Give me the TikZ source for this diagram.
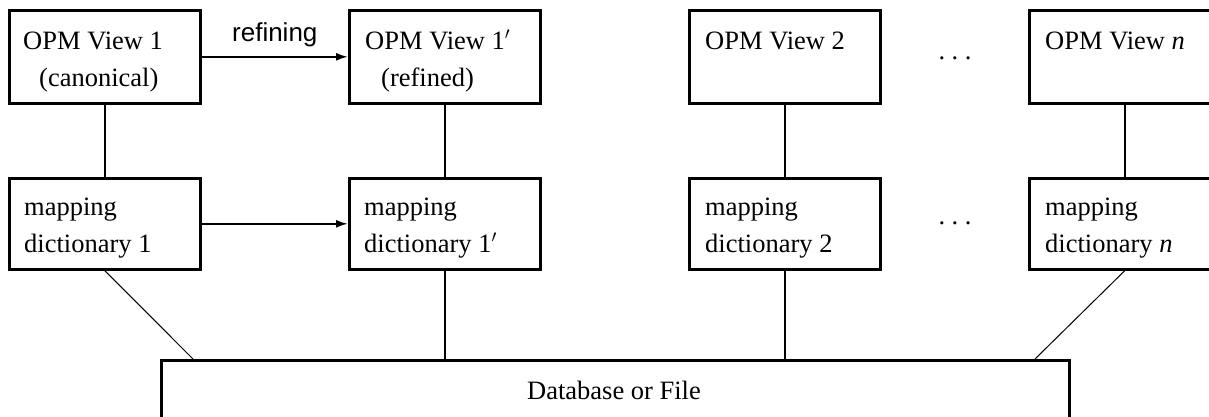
\documentclass[tikz,border=0pt]{standalone}
\usepackage{fontspec}
\setmainfont{Liberation Serif}
\newfontfamily\sansf{Liberation Sans}
\usetikzlibrary{arrows.meta}
\newcommand{\spdots}{.\hskip 6.5pt.\hskip 6.5pt.}
\begin{document}
\begin{tikzpicture}[x=1pt,y=-1pt,
  box/.style={draw, line width=2.6pt, inner sep=0pt, anchor=north west,
              minimum width=191pt},
  vbox/.style={box, minimum height=93pt},
  mbox/.style={box, minimum height=91pt},
  txt/.style={anchor=base west, inner sep=0pt, font=\fontsize{26.5}{30}\selectfont},
  ctxt/.style={txt, anchor=base},
  conn/.style={line width=2pt},
  thinline/.style={line width=1pt},
  arr/.style={line width=2pt, -{Latex[length=12pt,width=8pt]}}]
\useasboundingbox (0,0) rectangle (1209,416);
\clip (0,0) rectangle (1209,416);
% top row
\node[vbox] (v1)  at (8,9) {};
\node[vbox] (v1p) at (348,9) {};
\node[vbox] (v2)  at (688,9) {};
\node[vbox] (vn)  at (1028,9) {};
% mapping row
\node[mbox] (m1)  at (8,177) {};
\node[mbox] (m1p) at (348,177) {};
\node[mbox] (m2)  at (688,177) {};
\node[mbox] (mn)  at (1028,177) {};
% database
\node[draw, line width=2.6pt, inner sep=0pt, anchor=north west,
      minimum width=908pt, minimum height=100pt] (db) at (160,359) {};
% texts
\node[txt] (t1a) at (23,49) {OPM View 1};
\node[txt] (t1b) at (39,86) {(canonical)};
\node[txt] (t2a) at (365,49) {OPM View 1$'$};
\node[txt] (t2b) at (381,86) {(refined)};
\node[txt] (t3a) at (705,49) {OPM View 2};
\node[txt] (t4a) at (1045,49) {OPM View \textit{n}};
\node[txt] (u1a) at (24,215) {mapping};
\node[txt] (u1b) at (24,252) {dictionary 1};
\node[txt] (u2a) at (364,215) {mapping};
\node[txt] (u2b) at (364,252) {dictionary 1$'$};
\node[txt] (u3a) at (705,215) {mapping};
\node[txt] (u3b) at (705,252) {dictionary 2};
\node[txt] (u4a) at (1045,215) {mapping};
\node[txt] (u4b) at (1045,252) {dictionary \textit{n}};
\node[ctxt] (dots1) at (955,59) {\spdots};
\node[ctxt] (dots2) at (955,224) {\spdots};
\node[ctxt] (dbt) at (614,399) {Database or File};
% connectors
\draw[arr] (v1.east) -- node[above=9pt, inner sep=0pt, font=\sansf\fontsize{26}{30}\selectfont] (reflab) {refining} (v1p.west);
\draw[arr] (m1.east) -- (m1p.west);
\draw[conn] (v1.south) -- (m1.north);
\draw[conn] (v1p.south) -- (m1p.north);
\draw[conn] (v2.south) -- (m2.north);
\draw[conn] (vn.south) -- (mn.north);
\coordinate (dl) at (193,359);
\coordinate (dr) at (1035,359);
\draw[thinline] (m1.south) -- (dl);
\draw[thinline] (mn.south) -- (dr);
\draw[conn] (m1p.south) -- (m1p.south |- db.north);
\draw[conn] (m2.south) -- (m2.south |- db.north);
\end{tikzpicture}
\end{document}
